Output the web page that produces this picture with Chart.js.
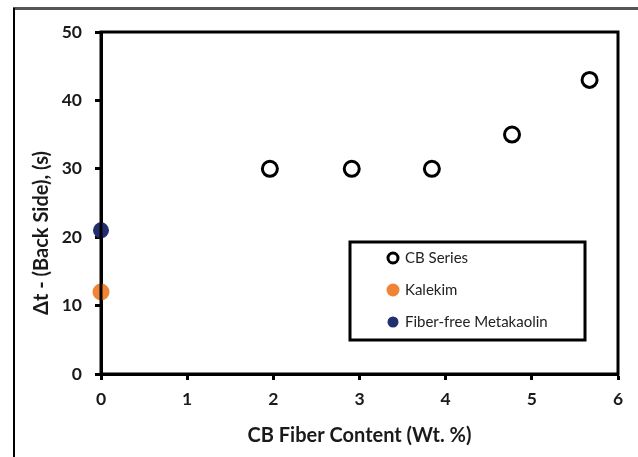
<!DOCTYPE html>
<html>
<head>
<meta charset="utf-8">
<script src="https://cdn.jsdelivr.net/npm/chart.js@4/dist/chart.umd.min.js"></script>
<style>
  html, body { margin: 0; padding: 0; background: #fff; }
  #wrap { width: 638px; height: 457px; position: relative; }
</style>
</head>
<body>
<div id="wrap"><canvas id="c" width="638" height="457"></canvas></div>
<script>
// ---- data ----
const cbX = [1.96, 2.91, 3.84, 4.77, 5.67];
const cbY = [30, 30, 30, 35, 43];
const kalekimX = [0];
const kalekimY = [12];
const metakaolinX = [0];
const metakaolinY = [21];
const seriesNames = ['CB Series', 'Kalekim', 'Fiber-free Metakaolin'];
const xTicks = [0, 1, 2, 3, 4, 5, 6];
const yTicks = [0, 10, 20, 30, 40, 50];
const xTitle = 'CB Fiber Content (Wt. %)';
const yTitle = '\u0394t - (Back Side), (s)';

const pts = (xs, ys) => xs.map((x, i) => ({ x: x, y: ys[i] }));

const FONT = "Lato, 'Open Sans', 'Liberation Sans', sans-serif";

const framePlugin = {
  id: 'frame',
  beforeDraw(chart) {
    const ctx = chart.ctx;
    ctx.save();
    ctx.fillStyle = '#fff';
    ctx.fillRect(0, 0, chart.width, chart.height);
    // outer figure frame
    ctx.strokeStyle = '#555';
    ctx.lineWidth = 3;
    ctx.beginPath();
    ctx.moveTo(13, 8.5);
    ctx.lineTo(638, 8.5);
    ctx.stroke();
    ctx.strokeStyle = '#000';
    ctx.lineWidth = 2;
    ctx.beginPath();
    ctx.moveTo(14, 8);
    ctx.lineTo(14, 457);
    ctx.stroke();
    ctx.restore();
  },
  afterDatasetsDraw(chart) {
    const ctx = chart.ctx;
    const a = chart.chartArea;
    ctx.save();
    // plot box
    ctx.strokeStyle = '#000';
    ctx.lineWidth = 3;
    ctx.strokeRect(a.left, a.top, a.right - a.left, a.bottom - a.top);
    // y title
    ctx.translate(42, 233);
    ctx.rotate(-Math.PI / 2);
    ctx.font = 'bold 20px ' + FONT;
    ctx.fillStyle = '#1a1a1a';
    ctx.textAlign = 'center';
    ctx.textBaseline = 'middle';
    ctx.fillText(yTitle, 0, 0);
    ctx.restore();
  },
  afterDraw(chart) {
    // legend drawn inside the plot area
    const ctx = chart.ctx;
    ctx.save();
    const bx = 350, by = 242, bw = 235, bh = 98;
    ctx.fillStyle = '#fff';
    ctx.fillRect(bx, by, bw, bh);
    ctx.strokeStyle = '#000';
    ctx.lineWidth = 3;
    ctx.strokeRect(bx, by, bw, bh);
    const rows = [258, 290, 322];
    ctx.font = '15px ' + FONT;
    ctx.textBaseline = 'middle';
    ctx.textAlign = 'left';
    chart.data.datasets.forEach((ds, i) => {
      const y = rows[i];
      const mx = 393;
      ctx.beginPath();
      if (i === 0) {
        ctx.arc(mx, y, 5, 0, Math.PI * 2);
        ctx.lineWidth = 3;
        ctx.strokeStyle = ds.borderColor;
        ctx.stroke();
      } else {
        ctx.arc(mx, y, i === 1 ? 6.5 : 5.5, 0, Math.PI * 2);
        ctx.fillStyle = ds.backgroundColor;
        ctx.fill();
      }
      ctx.fillStyle = '#222';
      ctx.fillText(ds.label, 405, y);
    });
    ctx.restore();
  }
};

new Chart(document.getElementById('c'), {
  type: 'scatter',
  data: {
    datasets: [
      {
        label: seriesNames[0],
        data: pts(cbX, cbY),
        pointRadius: 7.5,
        pointHoverRadius: 7.5,
        borderWidth: 3,
        borderColor: '#000',
        backgroundColor: '#fff',
        clip: false
      },
      {
        label: seriesNames[1],
        data: pts(kalekimX, kalekimY),
        pointRadius: 8.5,
        pointHoverRadius: 8.5,
        borderWidth: 0,
        borderColor: '#EE8434',
        backgroundColor: '#EE8434',
        clip: false
      },
      {
        label: seriesNames[2],
        data: pts(metakaolinX, metakaolinY),
        pointRadius: 8,
        pointHoverRadius: 8,
        borderWidth: 0,
        borderColor: '#222F6E',
        backgroundColor: '#222F6E',
        clip: false
      }
    ]
  },
  options: {
    responsive: false,
    animation: false,
    events: [],
    layout: { padding: { top: 32, right: 20, left: 0, bottom: 0 } },
    plugins: {
      legend: { display: false },
      tooltip: { enabled: false }
    },
    scales: {
      x: {
        type: 'linear',
        min: 0,
        max: 6,
        afterFit(s) { s.height = 83; },
        afterBuildTicks(s) { s.ticks = xTicks.map(v => ({ value: v })); },
        grid: {
          drawOnChartArea: false,
          drawTicks: true,
          tickLength: 6,
          tickWidth: 3,
          tickColor: '#000'
        },
        border: { display: true, color: '#000', width: 3 },
        ticks: {
          color: '#1a1a1a',
          padding: 9,
          maxRotation: 0,
          font: { family: FONT, size: 17.5, weight: 'bold' }
        },
        title: {
          display: true,
          text: xTitle,
          color: '#1a1a1a',
          padding: { top: 0, bottom: 9 },
          font: { family: FONT, size: 20, weight: 'bold' }
        }
      },
      y: {
        type: 'linear',
        min: 0,
        max: 50,
        afterFit(s) { s.width = 101; },
        afterBuildTicks(s) { s.ticks = yTicks.map(v => ({ value: v })); },
        grid: {
          drawOnChartArea: false,
          drawTicks: true,
          tickLength: 6,
          tickWidth: 3,
          tickColor: '#000'
        },
        border: { display: true, color: '#000', width: 3 },
        ticks: {
          color: '#1a1a1a',
          padding: 13,
          font: { family: FONT, size: 17.5, weight: 'bold' }
        },
        title: { display: false }
      }
    }
  },
  plugins: [framePlugin]
});
</script>
</body>
</html>
